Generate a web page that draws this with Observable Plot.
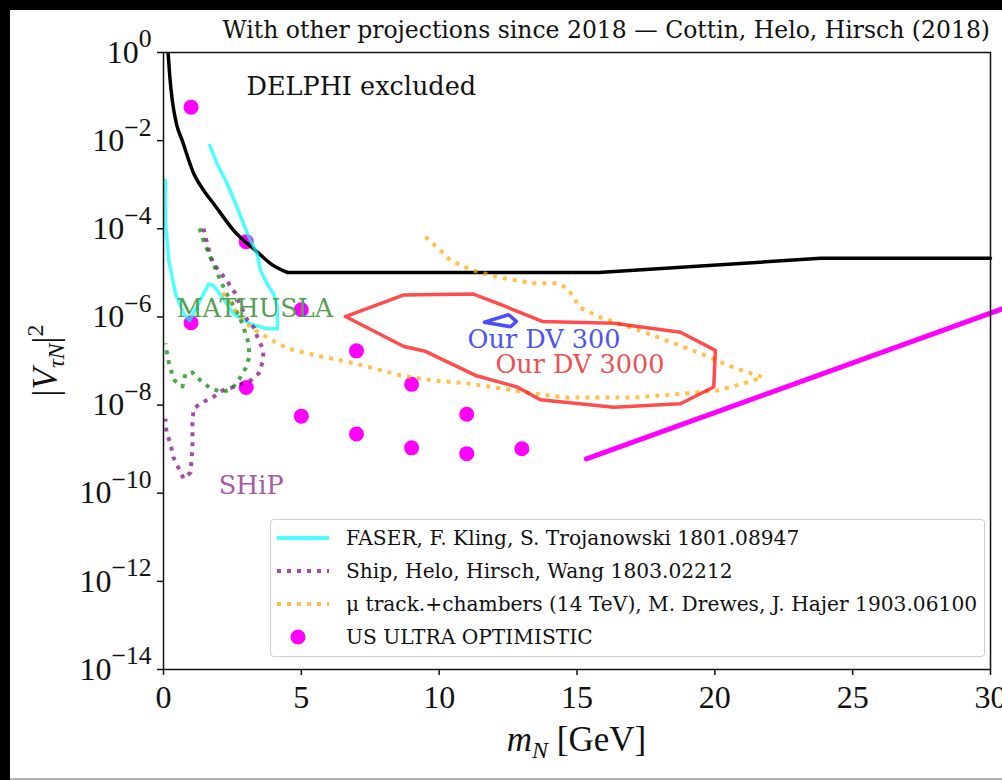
<!DOCTYPE html>
<html><head><meta charset="utf-8">
<script src="https://cdn.jsdelivr.net/npm/d3@7"></script>
<script src="https://cdn.jsdelivr.net/npm/@observablehq/plot@0.6"></script>
<style>
html,body{margin:0;padding:0;background:#000;overflow:hidden;width:1002px;height:780px;}
#page{position:absolute;left:10px;top:10px;width:992px;height:768px;background:#fff;border-bottom:2px solid #b4b4b4;}
#title{position:absolute;right:12px;top:5px;height:30px;line-height:30px;font-family:"DejaVu Serif",serif;font-size:23.5px;white-space:nowrap;color:#111;}
#chart{position:absolute;left:0;top:32px;}
#legend{position:absolute;left:260px;top:509px;width:713px;height:136px;border:1px solid #cfcfcf;border-radius:4px;background:rgba(255,255,255,0.85);}
.lrow{position:absolute;left:0;height:30px;display:flex;align-items:center;white-space:nowrap;}
.lrow span{font-family:"DejaVu Serif",serif;font-size:20.2px;color:#111;margin-left:13px;}
</style></head>
<body>
<div id="page">
  <div id="title"></div>
  <div id="chart"></div>
  <div id="legend"></div>
</div>
<script>
// ---------------- data ----------------
const titleText = "With other projections since 2018 \u2014 Cottin, Helo, Hirsch (2018)";
const xTicks = [0, 5, 10, 15, 20, 25, 30];
const yTicks = [1e-14, 1e-12, 1e-10, 1e-8, 1e-6, 1e-4, 1e-2, 1];

// DELPHI exclusion (black): curved low-mass part, then straight segments
const delphiCurveMass = [0.17, 0.23, 0.32, 0.47, 0.68, 1.10, 1.46, 1.82, 2.55, 3.45, 3.88, 4.49];
const delphiCurveV2   = [0.93, 0.275, 0.081, 0.024, 0.010, 1.78e-3, 7.4e-4, 3.7e-4, 9.1e-5, 2.8e-5, 1.62e-5, 1.02e-5];
const delphiFlatMass  = [4.49, 15.78, 23.83, 30];
const delphiFlatV2    = [1.02e-5, 1.02e-5, 2.14e-5, 2.14e-5];

// FASER (cyan)
const faserMass = [0.07, 0.07, 0.19, 0.44, 0.74, 0.95, 1.64, 1.82, 2.13, 2.55, 3.16, 3.76, 4.13, 4.13, 4.00, 3.76, 3.52, 3.40, 3.04, 2.67, 2.31, 1.95, 1.68];
const faserV2   = [1.26e-3, 1.55e-4, 1.91e-5, 3.31e-6, 1.17e-6, 8.3e-7, 5.6e-6, 5.1e-6, 2.82e-6, 1.17e-6, 6.9e-7, 5.4e-7, 5.4e-7, 1.66e-6, 3.31e-6, 5.6e-6, 1.12e-5, 2.69e-5, 7.8e-5, 3.09e-4, 1.05e-3, 2.95e-3, 7.8e-3];

// SHiP (purple dotted)
const shipMass = [1.45, 1.60, 1.78, 2.07, 2.36, 2.61, 2.83, 3.05, 3.30, 3.41, 3.63, 3.59, 3.45, 3.16, 2.50, 2.14, 1.78, 1.41, 1.09, 1.05, 1.05, 1.05, 1.02, 0.98, 0.73, 0.54, 0.36, 0.25, 0.11, 0.07];
const shipV2   = [1.02e-4, 4.2e-5, 1.70e-5, 1.02e-5, 5.8e-6, 3.39e-6, 1.62e-6, 8.3e-7, 5.5e-7, 3.39e-7, 1.74e-7, 9.3e-8, 5.2e-8, 3.63e-8, 2.51e-8, 2.14e-8, 1.48e-8, 1.15e-8, 8.3e-9, 3.8e-9, 2.04e-9, 1.10e-9, 6.2e-10, 2.95e-10, 2.14e-10, 3.8e-10, 6.5e-10, 1.35e-9, 2.4e-9, 4.9e-9];

// MATHUSLA (green dotted)
const mathMass = [1.31, 1.45, 1.63, 1.81, 1.99, 2.18, 2.36, 2.58, 2.79, 2.94, 3.08, 3.12, 3.01, 2.76, 2.50, 2.14, 1.70, 1.34, 1.05, 0.80, 0.69, 0.40, 0.25, 0.15, 0.07];
const mathV2   = [1.02e-4, 5.4e-5, 2.88e-5, 1.62e-5, 8.7e-6, 4.7e-6, 2.75e-6, 1.62e-6, 9.1e-7, 4.9e-7, 2.63e-7, 1.32e-7, 7.4e-8, 3.98e-8, 2.40e-8, 1.95e-8, 2.40e-8, 3.63e-8, 5.5e-8, 5.2e-8, 2.63e-8, 3.63e-8, 6.8e-8, 1.20e-7, 2.51e-7];

// mu track + chambers, Drewes & Hajer (orange dotted)
const muMass = [9.50, 10.16, 10.41, 11.24, 12.22, 13.42, 14.29, 14.65, 15.12, 15.85, 17.05, 18.28, 19.48, 20.68, 21.73, 21.04, 20.09, 18.86, 17.05, 14.65, 13.42, 12.22, 11.03, 9.79, 8.60, 7.98, 6.78, 5.59, 4.50, 3.77, 3.16, 2.50, 2.14];
const muV2   = [6.6e-5, 2.75e-5, 1.91e-5, 1.12e-5, 7.8e-6, 5.8e-6, 5.8e-6, 4.5e-6, 1.62e-6, 9.8e-7, 5.5e-7, 2.88e-7, 1.48e-7, 7.1e-8, 4.3e-8, 3.09e-8, 2.14e-8, 1.82e-8, 1.48e-8, 1.48e-8, 1.82e-8, 2.40e-8, 3.09e-8, 3.63e-8, 4.7e-8, 6.0e-8, 9.3e-8, 1.32e-7, 1.91e-7, 3.39e-7, 5.8e-7, 1.62e-6, 3.55e-6];

// Our DV 3000 (red contour)
const dv3000Mass = [6.60, 8.72, 11.25, 12.47, 13.74, 16.33, 18.75, 20.02, 19.96, 18.75, 16.33, 13.67, 12.83, 11.32, 9.50, 8.72, 6.60];
const dv3000V2   = [1.02e-6, 3.16e-6, 3.31e-6, 1.66e-6, 7.9e-7, 7.2e-7, 4.5e-7, 1.74e-7, 2.57e-8, 1.07e-8, 8.9e-9, 1.32e-8, 2.57e-8, 4.7e-8, 1.66e-7, 2.14e-7, 1.02e-6];

// Our DV 300 (blue contour)
const dv300Mass = [11.64, 12.52, 12.80, 12.59, 11.64];
const dv300V2   = [7.6e-7, 1.12e-6, 7.9e-7, 6.0e-7, 7.6e-7];

// US ULTRA OPTIMISTIC (magenta points)
const usMass = [1, 1, 3, 3, 5, 5, 7, 7, 9, 9, 11, 11, 13];
const usV2   = [0.0575, 7.4e-7, 5.1e-5, 2.5e-8, 1.45e-6, 5.6e-9, 1.7e-7, 2.2e-9, 2.95e-8, 1.07e-9, 6.2e-9, 7.9e-10, 1.02e-9];

// magenta line
const lineMass = [15.34, 30.43];
const lineV2   = [6.0e-10, 1.52e-6];

// annotations
const annoText  = ["DELPHI excluded", "MATHUSLA", "SHiP", "Our DV 300", "Our DV 3000"];
const annoMass  = [3.01, 0.47, 2.0, 11.03, 12.04];
const annoV2    = [0.17, 1.55e-6, 1.48e-10, 3.1e-7, 8.3e-8];
const annoColor = ["#111111", "#55a055", "#a65aa6", "#4d55f0", "#ee5050"];

// legend
const legendLabels = ["FASER, F. Kling, S. Trojanowski 1801.08947", "Ship, Helo, Hirsch, Wang 1803.02212", "\u03bc track.+chambers (14 TeV), M. Drewes, J. Hajer 1903.06100", "US ULTRA OPTIMISTIC"];
const legendKinds  = ["solid", "dotted", "dotted", "dot"];
const legendColors = ["cyan", "purple", "orange", "#ff00ff"];

// ---------------- build ----------------
const zip = (xs, ys) => xs.map((m, i) => ({m, v: ys[i]}));
const delphiCurve = zip(delphiCurveMass, delphiCurveV2);
const delphiFlat = zip(delphiFlatMass, delphiFlatV2);
const faser = zip(faserMass, faserV2);
const ship = zip(shipMass, shipV2);
const mathusla = zip(mathMass, mathV2);
const mu = zip(muMass, muV2);
const dv3000 = zip(dv3000Mass, dv3000V2);
const dv300 = zip(dv300Mass, dv300V2);
const us = zip(usMass, usV2);
const trend = zip(lineMass, lineV2);
const annos = annoText.map((t, i) => ({t, m: annoMass[i], v: annoV2[i], c: annoColor[i]}));

const dotted = {strokeWidth: 4, strokeDasharray: "4,6", strokeLinecap: "butt", strokeOpacity: 0.7};

const svg = Plot.plot({
  width: 992, height: 736,
  marginLeft: 153, marginRight: 12, marginTop: 10, marginBottom: 109,
  style: {fontFamily: "'Liberation Serif', serif", fontSize: "32px", color: "#111", background: "transparent", overflow: "visible"},
  x: {domain: [0, 30]},
  y: {type: "log", domain: [1e-14, 1]},
  color: {type: "identity"},
  marks: [
    Plot.dot(us, {x: "m", y: "v", r: 7.5, fill: "#ff00ff", stroke: null}),
    Plot.line(delphiCurve, {x: "m", y: "v", stroke: "#000", strokeWidth: 3.5, curve: "monotone-x"}),
    Plot.line(delphiFlat, {x: "m", y: "v", stroke: "#000", strokeWidth: 3.5}),
    Plot.line(faser, {x: "m", y: "v", stroke: "cyan", strokeOpacity: 0.7, strokeWidth: 3.5}),
    Plot.line(ship, {x: "m", y: "v", stroke: "purple", ...dotted}),
    Plot.line(mathusla, {x: "m", y: "v", stroke: "green", ...dotted}),
    Plot.line(mu, {x: "m", y: "v", stroke: "orange", ...dotted}),
    Plot.line(dv3000, {x: "m", y: "v", stroke: "red", strokeOpacity: 0.7, strokeWidth: 3.5}),
    Plot.line(dv300, {x: "m", y: "v", stroke: "blue", strokeOpacity: 0.7, strokeWidth: 3.5}),
    Plot.line(trend, {x: "m", y: "v", stroke: "#ff00ff", strokeWidth: 5}),
    Plot.text(annos, {x: "m", y: "v", text: "t", fill: "c", textAnchor: "start", lineAnchor: "middle", fontFamily: "DejaVu Serif", fontSize: 25.5}),
    Plot.frame({stroke: "#111", strokeWidth: 1.5}),
    Plot.axisX({ticks: xTicks, tickSize: 6, tickPadding: 10, label: null, strokeWidth: 1.5}),
    Plot.axisY({ticks: yTicks, tickFormat: d => String(Math.round(Math.log10(d))), tickSize: 6, tickPadding: 6, label: null, strokeWidth: 1.5})
  ]
});
document.getElementById("chart").appendChild(svg);
document.getElementById("title").textContent = titleText;

// superscripted y tick labels
d3.select(svg).selectAll('g[aria-label="y-axis tick label"] text').each(function() {
  const e = this.textContent.replace("-", "\u2212");
  const t = d3.select(this);
  t.text(null);
  t.append("tspan").text("10");
  t.append("tspan").attr("dy", "-0.6em").attr("font-size", "0.8em").text(e);
});

// axis labels
const xr = svg.scale("x").range, yr = svg.scale("y").range;
const xl = d3.select(svg).append("text")
  .attr("x", (xr[0] + xr[1]) / 2).attr("y", 709)
  .attr("text-anchor", "middle").attr("font-size", 35).attr("fill", "#111");
xl.append("tspan").attr("font-style", "italic").text("m");
xl.append("tspan").attr("font-style", "italic").attr("font-size", 24).attr("dy", 7).text("N");
xl.append("tspan").attr("dy", -7).text("\u00a0[GeV]");

const yl = d3.select(svg).append("text")
  .attr("transform", `translate(47,${(yr[0] + yr[1]) / 2}) rotate(-90)`)
  .attr("text-anchor", "middle").attr("font-size", 35).attr("fill", "#111");
yl.append("tspan").text("|");
yl.append("tspan").attr("font-style", "italic").text("V");
yl.append("tspan").attr("font-style", "italic").attr("font-size", 24).attr("dy", 7).text("\u03c4N");
yl.append("tspan").attr("dy", -7).text("|");
yl.append("tspan").attr("font-size", 24).attr("dy", -14).text("2");

// legend
const leg = d3.select("#legend");
legendLabels.forEach((lab, i) => {
  const row = leg.append("div").attr("class", "lrow").style("top", (3 + i * 33) + "px");
  const s = row.append("svg").attr("width", 62).attr("height", 30);
  if (legendKinds[i] === "dot") {
    s.append("circle").attr("cx", 27).attr("cy", 15).attr("r", 7.5).attr("fill", legendColors[i]);
  } else {
    const l = s.append("line").attr("x1", 6).attr("x2", 58).attr("y1", 15).attr("y2", 15)
      .attr("stroke", legendColors[i]).attr("stroke-opacity", 0.7).attr("stroke-width", 4);
    if (legendKinds[i] === "dotted") l.attr("stroke-dasharray", "4,6");
  }
  row.append("span").text(lab);
});
</script>
</body></html>
